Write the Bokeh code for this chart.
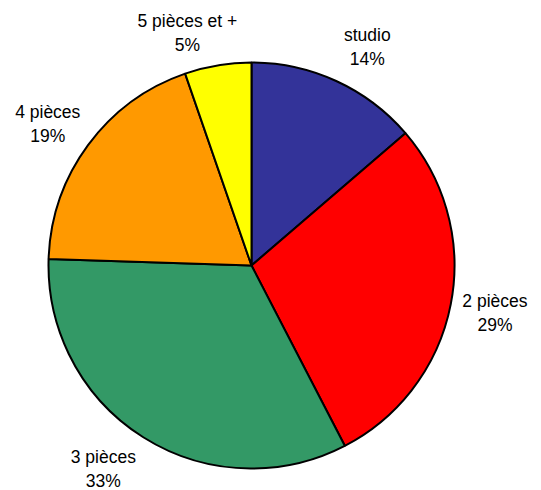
import math
from bokeh.plotting import figure
from bokeh.models import ColumnDataSource
from bokeh.core.properties import value
from bokeh.embed import file_html
from bokeh.resources import INLINE

categories = ["studio", "2 pièces", "3 pièces", "4 pièces", "5 pièces et +"]
shares = [13.7, 28.7, 33.1, 19.2, 5.3]
colors = ["#333399", "#FF0000", "#339966", "#FF9900", "#FFFF00"]

# layout
W, H = 541, 490
CX, CY, R = 251, H - 265, 203
label_dist = [247, 248, 252, 248, 241]
label_shift = [3.3, 0.0, 3.8, -1.6, -5.9]
LINE_GAP = 12

total = sum(shares)
starts, ends, lx, ly, l1, l2 = [], [], [], [], [], []
cum = 0.0
for i, s in enumerate(shares):
    a0 = cum / total
    cum += s
    a1 = cum / total
    starts.append(math.pi / 2 - 2 * math.pi * a1)
    ends.append(math.pi / 2 - 2 * math.pi * a0)
    mid = math.radians(360 * (a0 + a1) / 2 + label_shift[i])
    lx.append(CX + label_dist[i] * math.sin(mid))
    ly.append(CY + label_dist[i] * math.cos(mid))
    l1.append(categories[i])
    l2.append(f"{round(s / total * 100)}%")

src = ColumnDataSource(dict(start=starts, end=ends, color=colors,
                            x=[CX] * len(shares), y=[CY] * len(shares),
                            lx=lx, ly=ly, l1=l1, l2=l2))

p = figure(width=W, height=H, x_range=(0, W), y_range=(0, H),
           output_backend="svg", toolbar_location=None, min_border=0)
p.axis.visible = False
p.grid.visible = False
p.outline_line_color = None
p.background_fill_color = "white"

p.wedge(x="x", y="y", radius=R, start_angle="start", end_angle="end",
        fill_color="color", line_color="black", line_width=2, source=src)

for col, off in (("l1", LINE_GAP), ("l2", -LINE_GAP)):
    p.text(x="lx", y="ly", text=col, y_offset=-off, source=src,
           text_align="center", text_baseline="middle",
           text_font=value("Liberation Sans"), text_font_size="17.5px",
           text_color="black")

open("out.html", "w").write(file_html(p, INLINE))
